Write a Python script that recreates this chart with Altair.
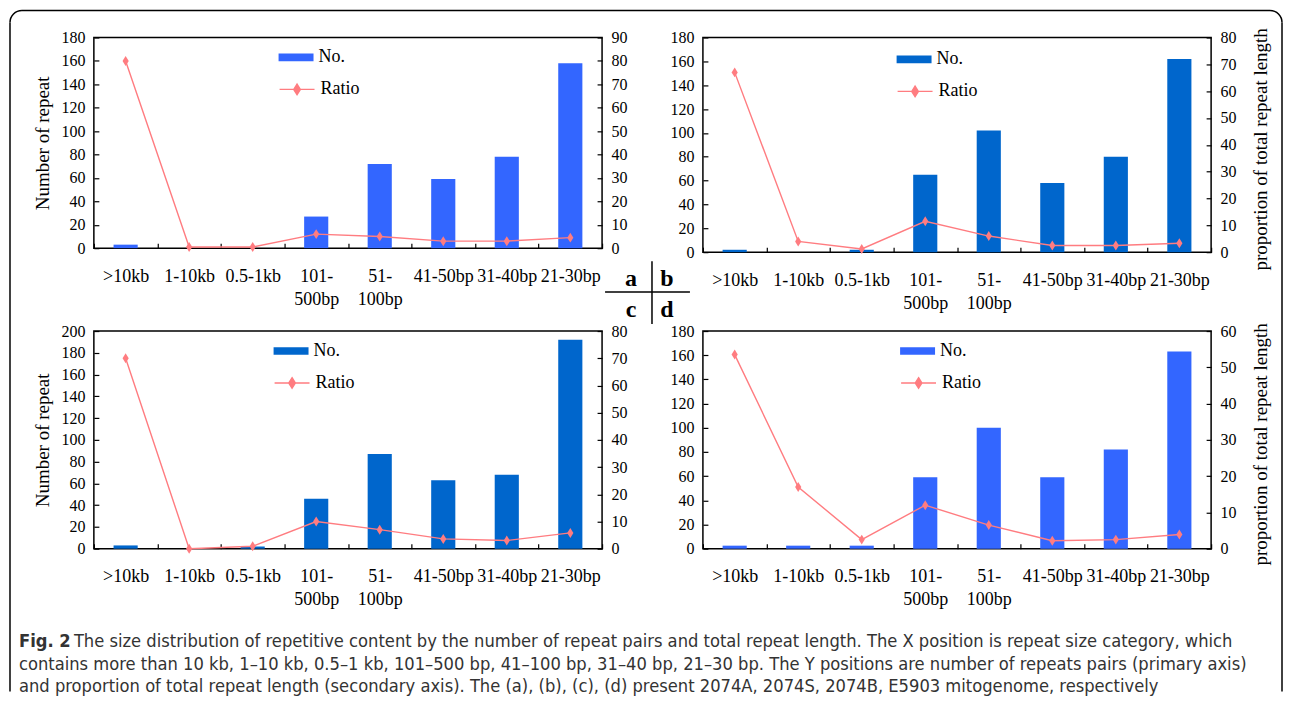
import altair as alt
import pandas as pd

# ---------------- data ----------------
categories = [">10kb", "1-10kb", "0.5-1kb", "101-500bp", "51-100bp", "41-50bp", "31-40bp", "21-30bp"]
label_lines = {"101-500bp": ["101-", "500bp"], "51-100bp": ["51-", "100bp"]}

a_no = [3, 0, 0, 27, 72, 59, 78, 158]
a_ratio = [80, 0.5, 0.5, 6, 5, 3, 3, 4.5]
b_no = [2, 0, 2, 65, 102, 58, 80, 162]
b_ratio = [67, 4, 1.2, 11.5, 6, 2.5, 2.5, 3.3]
c_no = [3, 0, 2, 46, 87, 63, 68, 192]
c_ratio = [70, 0, 0.9, 10, 7, 3.6, 3, 5.8]
d_no = [2.5, 2.5, 2.5, 59, 100, 59, 82, 163]
d_ratio = [53.5, 17, 2.5, 12, 6.5, 2.2, 2.5, 3.9]

left_max = [180, 180, 200, 180]
right_max = [90, 80, 80, 60]
left_step = 20
right_step = 10
left_title = "Number of repeat"
right_title = "proportion of total repeat length"
series_names = ["No.", "Ratio"]
panel_letters = ["a", "b", "c", "d"]
caption_bold = "Fig. 2"
caption_lines = [
    "The size distribution of repetitive content by the number of repeat pairs and total repeat length. The X position is repeat size category, which",
    "contains more than 10 kb, 1\u201310 kb, 0.5\u20131 kb, 101\u2013500 bp, 41\u2013100 bp, 31\u201340 bp, 21\u201330 bp. The Y positions are number of repeats pairs (primary axis)",
    "and proportion of total repeat length (secondary axis). The (a), (b), (c), (d) present 2074A, 2074S, 2074B, E5903 mitogenome, respectively",
]

# ---------------- style ----------------
SERIF = "Liberation Serif"
CAPFONT = "Liberation Sans Narrow, DejaVu Sans Condensed, Open Sans"
BLUE_BRIGHT = "#3366FF"
BLUE_DARK = "#0066CC"
PINK = "#FF7C80"
RECT_PATH = "M-1,-0.22H1V0.22H-1Z"
LINE_PATH = "M-1,0H1M0,-0.3L0.19,0L0,0.3L-0.19,0Z"
DIAMOND = "M0,-1L0.62,0L0,1L-0.62,0Z"

label_expr = " : ".join(
    f"datum.value == '{k}' ? {v!r}" for k, v in label_lines.items()
) + " : datum.label"

W = 509


def one_row():
    return alt.Chart(alt.Data(values=[{"k": 0}]))


def panel(no, ratio, lmax, rmax, color, H, show_left, show_right, lx, ly, extras=()):
    df = pd.DataFrame({"cat": categories, "no": no, "ratio": ratio,
                       "s_no": series_names[0], "s_ratio": series_names[1]})
    xaxis = alt.Axis(title=None, orient="bottom", offset=-5, tickSize=5, tickBand="extent",
                     domain=False, grid=False, labelAngle=0, labelPadding=19,
                     labelFont=SERIF, labelFontSize=18, labelColor="black",
                     labelBaseline="top", labelLineHeight=23, labelExpr=label_expr,
                     labelOverlap=False, tickColor="black", tickWidth=1.2)
    x = alt.X("cat:N", sort=categories,
              scale=alt.Scale(type="band", paddingInner=0, paddingOuter=0), axis=xaxis)
    laxis = alt.Axis(orient="left", values=list(range(0, lmax + 1, left_step)), offset=-5,
                     tickSize=5, domain=False, grid=False, labelPadding=9,
                     labelFont=SERIF, labelFontSize=16, labelColor="black",
                     tickColor="black", tickWidth=1.2,
                     title=left_title if show_left else None,
                     titleX=-56, titleY=H / 2, titleAngle=270, titleAlign="center",
                     titleBaseline="middle", titleFont=SERIF, titleFontSize=19,
                     titleFontWeight="normal", titleColor="black")
    raxis = alt.Axis(orient="right", values=list(range(0, rmax + 1, right_step)), offset=-5,
                     tickSize=5, domain=False, grid=False, labelPadding=9,
                     labelFont=SERIF, labelFontSize=16, labelColor="black",
                     tickColor="black", tickWidth=1.2,
                     title=right_title if show_right else None,
                     titleX=54, titleY=H / 2 + 4, titleAngle=270, titleAlign="center",
                     titleBaseline="middle", titleFont=SERIF, titleFontSize=19,
                     titleFontWeight="normal", titleColor="black")
    yl = alt.Scale(domain=[0, lmax], nice=False, zero=True)
    yr = alt.Scale(domain=[0, rmax], nice=False, zero=True)
    base = alt.Chart(df)
    bars = base.mark_bar(width=alt.RelativeBandSize(0.38)).encode(
        x=x,
        y=alt.Y("no:Q", scale=yl, axis=laxis),
        color=alt.Color("s_no:N", scale=alt.Scale(domain=[series_names[0]], range=[color]),
                        legend=alt.Legend(orient="none", legendX=lx, legendY=ly, title=None,
                                          padding=0, symbolType=RECT_PATH, symbolSize=1225,
                                          symbolStrokeWidth=0, labelFont=SERIF,
                                          labelFontSize=18, labelColor="black",
                                          labelOffset=5)),
    )
    line = base.mark_line(strokeWidth=1.4).encode(
        x=x,
        y=alt.Y("ratio:Q", scale=yr, axis=raxis),
        stroke=alt.Stroke("s_ratio:N", scale=alt.Scale(domain=[series_names[1]], range=[PINK]),
                          legend=alt.Legend(orient="none", legendX=lx, legendY=ly + 31,
                                            title=None, padding=0, symbolType=LINE_PATH,
                                            symbolSize=1225, symbolFillColor=PINK,
                                            symbolStrokeWidth=1.4, labelFont=SERIF,
                                            labelFontSize=18, labelColor="black",
                                            labelOffset=5)),
    )
    pts = base.mark_point(shape=DIAMOND, filled=True, size=100, color=PINK, opacity=1).encode(
        x=x,
        y=alt.Y("ratio:Q", scale=yr, axis=raxis),
    )
    return alt.layer(bars, alt.layer(line, pts), *extras).resolve_scale(
        y="independent").properties(width=W, height=H)


# ---------- decorations (relative to panel a plot origin) ----------
BL, BT, BR, BB, R = -84, -27, 1190, 655, 12
deco = []
rule = dict(color="black", strokeWidth=1.5)
deco.append(one_row().mark_rule(**rule).encode(x=alt.value(BL + R), x2=alt.value(BR - R), y=alt.value(BT)))
deco.append(one_row().mark_rule(**rule).encode(x=alt.value(BL), y=alt.value(BT + R), y2=alt.value(BB)))
deco.append(one_row().mark_rule(**rule).encode(x=alt.value(BR), y=alt.value(BT + R), y2=alt.value(BB)))
deco.append(one_row().mark_arc(color="black").encode(
    x=alt.value(BL + R), y=alt.value(BT + R), theta=alt.value(4.7124), theta2=alt.value(6.2832),
    radius=alt.value(R + 0.75), radius2=alt.value(R - 0.75)))
deco.append(one_row().mark_arc(color="black").encode(
    x=alt.value(BR - R), y=alt.value(BT + R), theta=alt.value(0), theta2=alt.value(1.5708),
    radius=alt.value(R + 0.75), radius2=alt.value(R - 0.75)))

# a | b / c | d marker
for letter, (lxp, lyp) in zip(panel_letters, [(538, 242), (574, 242), (538, 273), (574, 273)]):
    deco.append(one_row().mark_text(text=letter, font=SERIF, fontSize=24, fontWeight="bold",
                                    color="black", align="center", baseline="middle").encode(
        x=alt.value(lxp), y=alt.value(lyp)))
deco.append(one_row().mark_rule(**rule).encode(x=alt.value(512), x2=alt.value(597), y=alt.value(255)))
deco.append(one_row().mark_rule(**rule).encode(x=alt.value(559), y=alt.value(224), y2=alt.value(287)))

# caption
cap = dict(font=CAPFONT, fontSize=18.2, color="#333333", align="left", baseline="middle")
deco.append(one_row().mark_text(text=caption_bold, fontWeight="bold", **cap).encode(
    x=alt.value(-75), y=alt.value(605)))
deco.append(one_row().mark_text(text=caption_lines[0], **cap).encode(x=alt.value(-20), y=alt.value(605)))
deco.append(one_row().mark_text(text=caption_lines[1], **cap).encode(x=alt.value(-75), y=alt.value(628)))
deco.append(one_row().mark_text(text=caption_lines[2], **cap).encode(x=alt.value(-75), y=alt.value(651)))

pa = panel(a_no, a_ratio, left_max[0], right_max[0], BLUE_BRIGHT, 211, True, False, 185, 2.5, deco)
pb = panel(b_no, b_ratio, left_max[1], right_max[1], BLUE_DARK, 215, False, True, 194, 4.5)
pc = panel(c_no, c_ratio, left_max[2], right_max[2], BLUE_DARK, 218, True, False, 180, 2.5)
pd_ = panel(d_no, d_ratio, left_max[3], right_max[3], BLUE_BRIGHT, 218, False, True, 197.5, 2.5)

chart = alt.concat(pa, pb, pc, pd_, columns=2, spacing=alt.RowColnumber(row=79, column=101),
                   bounds="flush", align="each").resolve_scale(
    x="independent", y="independent", color="independent", stroke="independent"
).configure_view(stroke="black", strokeWidth=1.5).properties(padding=0, background="white")

chart.save("out.html", embed_options={"renderer": "svg", "actions": False})
